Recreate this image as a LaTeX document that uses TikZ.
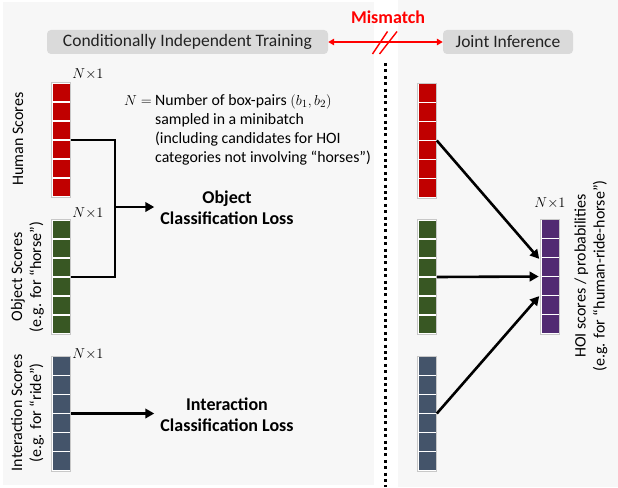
\documentclass[tikz,border=0pt]{standalone}
\usepackage{fontspec}
\setmainfont{Carlito}
\usetikzlibrary{arrows.meta,calc}
\definecolor{panel}{HTML}{F7F7F7}
\definecolor{headfill}{HTML}{DADADA}
\definecolor{hred}{HTML}{C00000}
\definecolor{ogreen}{HTML}{385723}
\definecolor{iblue}{HTML}{44546A}
\definecolor{hpurple}{HTML}{512A72}
\definecolor{barframe}{HTML}{C8C8C8}
\definecolor{mred}{HTML}{FF0000}
\definecolor{txt}{HTML}{222222}
\begin{document}
\begin{tikzpicture}[x=1pt,y=-1pt,
  scorebar/.style={draw=barframe, line width=0.6pt, fill=white, minimum width=19pt, minimum height=115pt, inner sep=0pt,
    path picture={\foreach \k in {0,...,5}{\fill[#1] ($(path picture bounding box.north west)+(1pt,{-1pt-\k*19pt})$) rectangle ++(17pt,-17.6pt);}}},
  headbox/.style={fill=headfill, rounded corners=4pt, minimum height=24pt, inner sep=0pt, font=\fontsize{17.5}{20}\selectfont, text=txt},
  dimlab/.style={inner sep=0pt, font=\fontsize{14.5}{16}\selectfont},
  rotlab/.style={rotate=90, align=center, inner sep=0pt, font=\fontsize{16}{19}\selectfont},
  notetext/.style={inner sep=0pt, align=left, font=\fontsize{15.8}{19}\selectfont},
  losslab/.style={inner ysep=0pt, inner xsep=6pt, align=center, font=\bfseries\fontsize{18}{21}\selectfont},
  conn/.style={line width=2.6pt, line join=miter},
  arr/.style={line width=2.6pt, -{Triangle[length=9pt,width=9.5pt]}},
  redarr/.style={mred, line width=1.4pt, {Triangle[length=6pt,width=6.5pt]}-{Triangle[length=6pt,width=6.5pt]}}
]
\fill[white] (0,0) rectangle (618,487);
\useasboundingbox (0,0) rectangle (618,487);
\fill[panel] (3,2) rectangle (374,485);
\fill[panel] (398,0) rectangle (618,487);

% header
\node[headbox, minimum width=281pt] (train) at (187.5,42) {Conditionally Independent Training};
\node[headbox, minimum width=130pt] (infer) at (508,42) {Joint Inference};
\node[font=\bfseries\fontsize{18}{20}\selectfont, text=mred, inner sep=0pt] (mis) at (388,17) {Mismatch};
\draw[redarr] (train.east) -- (infer.west);
\draw[mred, line width=1.4pt] (372.5,54) -- (387.5,31.5);
\draw[mred, line width=1.4pt] (379.5,54) -- (397,31.5);

% divider
\draw[line width=3pt, dash pattern=on 3pt off 3.4pt] (385,63) -- (385,487);

% left bars
\node[scorebar=hred] (hL) at (61,140) {};
\node[scorebar=ogreen] (oL) at (61,277) {};
\node[scorebar=iblue] (iL) at (61,413.5) {};
\node[dimlab] (nh) at (88,74) {$N{\times}1$};
\node[dimlab] (no) at (88,213) {$N{\times}1$};
\node[dimlab] (ni) at (88,354) {$N{\times}1$};

\node[rotlab] (hlab) at (18,139) {Human Scores};
\node[rotlab] (olab) at (27.5,277) {Object Scores\\(e.g. for “horse”)};
\node[rotlab] (ilab) at (27.5,413) {Interaction Scores\\(e.g. for “ride”)};

% note
\node[notetext, anchor=west] (note) at (155,129.5) {Number of box-pairs $(b_1,b_2)$\\sampled in a minibatch\\(including candidates for HOI\\categories not involving “horses”)};
\node[dimlab, anchor=east] (neq) at (152,101) {$N =$};

% losses
\node[losslab] (objloss) at (227,207.5) {Object\\Classification Loss};
\node[losslab] (intloss) at (227,414.5) {Interaction\\Classification Loss};
\coordinate (junc) at (115,207);
\draw[conn] (hL.east) -| (junc) |- (oL.east);
\draw[arr] (junc) -- (junc -| objloss.west);
\draw[arr] (iL.east) -- (iL.east -| intloss.west);

% right bars
\node[scorebar=hred] (hR) at (427,140.5) {};
\node[scorebar=ogreen] (oR) at (427,277) {};
\node[scorebar=iblue] (iR) at (427,413.5) {};
\node[scorebar=hpurple] (pR) at (550,276.5) {};
\node[dimlab] (np) at (550,203) {$N{\times}1$};
\node[rotlab] (plab) at (591,276) {HOI scores / probabilities\\(e.g. for “human-ride-horse”)};

\draw[arr, shorten >=1.5pt] (hR.east) -- ([yshift=16.5pt]pR.west);
\draw[arr, shorten >=1.5pt] (oR.east) -- (pR.west);
\draw[arr, shorten >=1.5pt] (iR.east) -- ([yshift=-18.5pt]pR.west);
\end{tikzpicture}
\end{document}
